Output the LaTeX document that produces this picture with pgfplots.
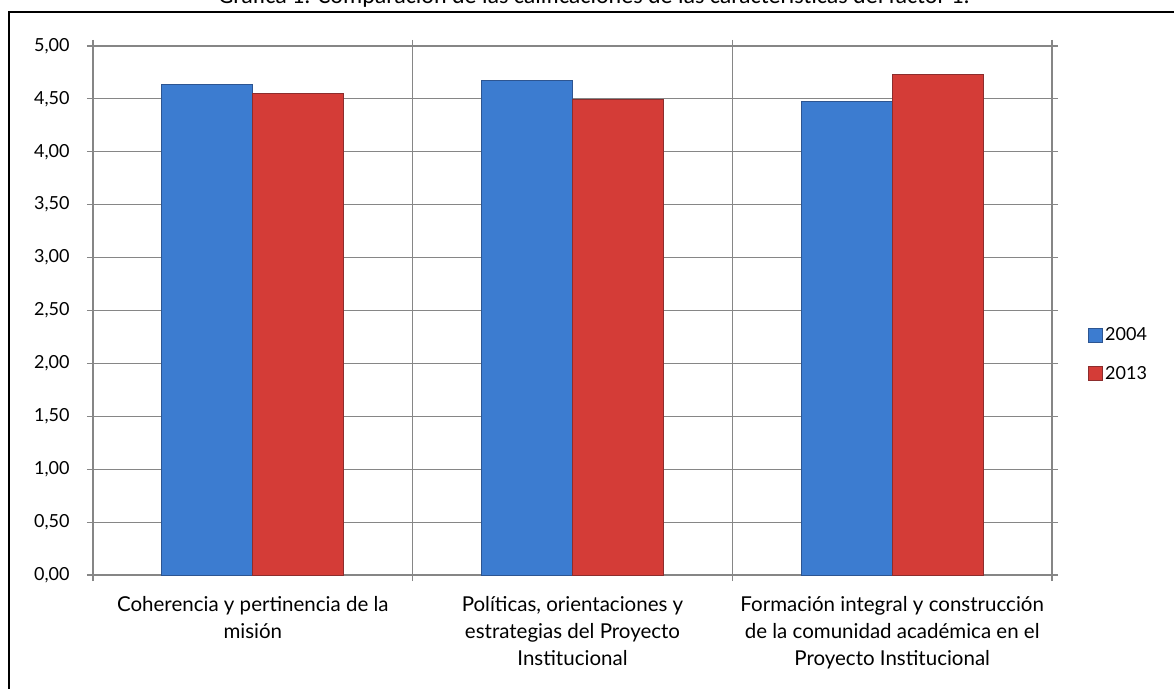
\documentclass[border=0pt]{standalone}
\usepackage{pgfplots}
\pgfplotsset{compat=1.18}
\usepackage{fontspec}
\setmainfont{Lato}
\newfontfamily\titlefont{Carlito}
\definecolor{bluF}{RGB}{60,124,208}
\definecolor{bluD}{RGB}{45,85,145}
\definecolor{redF}{RGB}{212,60,55}
\definecolor{redD}{RGB}{140,45,45}
\definecolor{gridG}{RGB}{134,134,134}
\begin{document}
\begin{tikzpicture}[x=1pt,y=1pt]
\useasboundingbox (0,0) rectangle (1174,688);
\draw[line width=2.4pt] (9,-20) |- (1200,676);
\node[anchor=base,font=\titlefont\fontsize{24}{28}\selectfont] at (594,684) {Gráfica 1. Comparación de las calificaciones de las características del factor 1.};
\begin{axis}[
  at={(93pt,113pt)}, anchor=south west,
  scale only axis, width=959pt, height=529pt,
  ymin=0, ymax=5, xmin=-0.5, xmax=2.5,
  ybar=0pt, bar width=91pt,
  ytick={0,0.5,...,5},
  /pgf/number format/fixed, /pgf/number format/fixed zerofill, /pgf/number format/precision=2, /pgf/number format/use comma, /pgf/number format/assume math mode=true,
  yticklabel style={font=\fontsize{18}{22}\selectfont, xshift=-14pt},
  xtick={0,1,2},
  xticklabels={{Coherencia y pertinencia de la\\misión},{Políticas, orientaciones y\\estrategias del Proyecto\\Institucional},{Formación integral y construcción\\de la comunidad académica en el\\Proyecto Institucional}},
  xticklabel style={align=center, font=\fontsize{20.5}{27}\selectfont, yshift=-12pt},
  major x tick style={draw=none},
  minor xtick={-0.5,0.5,1.5,2.5},
  minor x tick style={gridG, line width=1.2pt},
  x grid style={gridG, line width=1.2pt},
  minor x grid style={gridG, line width=1.2pt},
  xminorgrids=true, ymajorgrids=true,
  y grid style={gridG, line width=1.2pt},
  major y tick style={gridG, line width=1.2pt},
  tick align=outside, major tick length=6pt, minor tick length=6pt,
  axis line style={gridG, line width=1.2pt},
  legend style={draw=none, at={(1.0375,0.417)}, anchor=west, font=\fontsize{18}{22}\selectfont, row sep=20pt, inner sep=0pt},
  legend cell align=left,
  legend image code/.code={\draw[#1] (0pt,-7pt) rectangle (14pt,7pt);},
]
\addplot[fill=bluF, draw=bluD, line width=1pt] coordinates {(0,4.64) (1,4.67) (2,4.475)};
\addplot[fill=redF, draw=redD, line width=1pt] coordinates {(0,4.555) (1,4.495) (2,4.73)};
\legend{2004,2013}
\end{axis}
\end{tikzpicture}
\end{document}
